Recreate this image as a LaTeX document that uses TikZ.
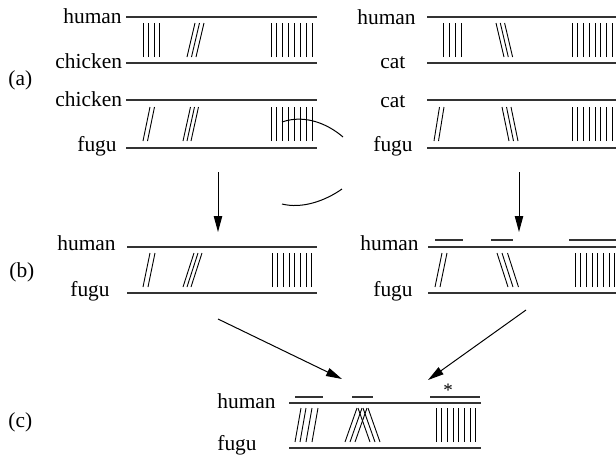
\documentclass[tikz,border=0pt]{standalone}
\usepackage{fontspec}
\setmainfont{Liberation Serif}
\usetikzlibrary{arrows.meta}

\tikzset{
  chrom/.style={line width=0.6pt, black!80},
  bar/.style={line width=0.45pt},
  sp/.style={anchor=base west, inner sep=0pt, font=\fontsize{10.7}{12}\selectfont},
  link/.style={-{Triangle[length=8pt,width=4.2pt]}, line width=0.5pt},
}

\begin{document}
\begin{tikzpicture}[x=0.5pt, y=-0.5pt]
  \useasboundingbox (0,0) rectangle (616,456);
  % panel labels
  \node[sp] (pa) at (8,85) {(a)};
  \node[sp] (pb) at (9,277) {(b)};
  \node[sp] (pc) at (8,427) {(c)};

  % (a) human - chicken, chicken - fugu
  \node[sp] (hc1) at (63,23) {human};
  \node[sp] (ch1) at (55,68) {chicken};
  \node[sp] (ch2) at (55,106) {chicken};
  \node[sp] (fc2) at (77,151) {fugu};
  \draw[chrom] (126,17) -- (317,17);
  \draw[chrom] (126,63) -- (317,63);
  \draw[chrom] (126,100) -- (317,100);
  \draw[chrom] (126,148) -- (317,148);
  \foreach \x in {143,148.5,154,159.5} \draw[bar] (\x,57) -- ++(0,-34);
  \foreach \x in {187,191.5,196} \draw[bar] (\x,57) -- ++(8,-34);
  \foreach \i in {0,...,7} \draw[bar] ({271+5.85*\i},57) -- ++(0,-34);
  \foreach \x in {143,147.5} \draw[bar] (\x,141) -- ++(7,-34);
  \foreach \x in {183,187,191} \draw[bar] (\x,141) -- ++(7.5,-34);
  \foreach \i in {0,...,7} \draw[bar] ({271+5.85*\i},141) -- ++(0,-34);

  % (a) human - cat, cat - fugu
  \node[sp] (ht1) at (357,24) {human};
  \node[sp] (ct1) at (380,68) {cat};
  \node[sp] (ct2) at (380,107) {cat};
  \node[sp] (ft2) at (373,151) {fugu};
  \draw[chrom] (427,17) -- (616,17);
  \draw[chrom] (427,63) -- (616,63);
  \draw[chrom] (427,100) -- (616,100);
  \draw[chrom] (427,148) -- (616,148);
  \foreach \x in {443,449,455,461} \draw[bar] (\x,57) -- ++(0,-34);
  \foreach \x in {504,508.3,512.6} \draw[bar] (\x,57) -- ++(-8,-34);
  \foreach \i in {0,...,7} \draw[bar] ({572+5.75*\i},57) -- ++(0,-34);
  \foreach \x in {434,438.5} \draw[bar] (\x,141) -- ++(5.5,-34);
  \foreach \x in {509,513.5,518} \draw[bar] (\x,141) -- ++(-7,-34);
  \foreach \i in {0,...,7} \draw[bar] ({572+5.75*\i},141) -- ++(0,-34);

  % curved marks
  \draw[line width=0.5pt] (282,122) .. controls (305,114) and (328,124) .. (343,137);
  \draw[line width=0.5pt] (282,204) .. controls (302,209) and (325,201) .. (342,189);

  % arrows to (b)
  \coordinate (s1) at (218,172); \coordinate (e1) at (218,232);
  \coordinate (s2) at (519,172); \coordinate (e2) at (519,232);
  \draw[link] (s1) -- (e1);
  \draw[link] (s2) -- (e2);

  % (b) left
  \node[sp] (hb1) at (57,250) {human};
  \node[sp] (fb1) at (70,296) {fugu};
  \draw[chrom] (127,247) -- (317,247);
  \draw[chrom] (127,293) -- (317,293);
  \foreach \x in {143,148} \draw[bar] (\x,287) -- ++(7,-34);
  \foreach \x in {183,187,191} \draw[bar] (\x,287) -- ++(11,-34);
  \foreach \i in {0,...,7} \draw[bar] ({272+5.7*\i},287) -- ++(0,-34);

  % (b) right
  \node[sp] (hb2) at (360,250) {human};
  \node[sp] (fb2) at (373,296) {fugu};
  \draw[chrom] (428,247) -- (616,247);
  \draw[chrom] (428,293) -- (616,293);
  \draw[chrom] (435,240) -- (463,240);
  \draw[chrom] (491,240) -- (513,240);
  \draw[chrom] (569,240) -- (616,240);
  \foreach \x in {435,440} \draw[bar] (\x,287) -- ++(7,-34);
  \foreach \x in {508,513,518.5} \draw[bar] (\x,287) -- ++(-11,-34);
  \foreach \i in {0,...,7} \draw[bar] ({575+5.7*\i},287) -- ++(0,-34);

  % arrows to (c)
  \coordinate (s3) at (218,319); \coordinate (e3) at (342,379);
  \coordinate (s4) at (526,310); \coordinate (e4) at (428,380);
  \draw[link] (s3) -- (e3);
  \draw[link] (s4) -- (e4);

  % (c)
  \node[sp] (hc) at (217,408) {human};
  \node[sp] (fc) at (217,450) {fugu};
  \draw[chrom] (289,403) -- (481,403);
  \draw[chrom] (289,448) -- (481,448);
  \draw[chrom] (295,397) -- (323,397);
  \draw[chrom] (352,397) -- (373,397);
  \draw[chrom] (430,397) -- (480,397);
  \node[inner sep=0pt, font=\fontsize{9.5}{11}\selectfont] (star) at (448,390) {*};
  \foreach \x in {295,300,306,312} \draw[bar] (\x,442) -- ++(6,-34);
  \foreach \x in {345,350,355} \draw[bar] (\x,442) -- ++(12,-34);
  \foreach \x in {370,375,380} \draw[bar] (\x,442) -- ++(-12,-34);
  \foreach \i in {0,...,7} \draw[bar] ({436+5.7*\i},442) -- ++(0,-34);
\end{tikzpicture}
\end{document}
